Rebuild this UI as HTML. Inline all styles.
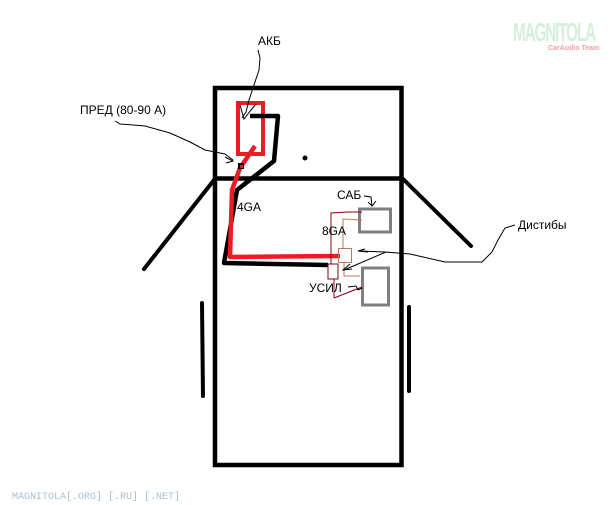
<!DOCTYPE html>
<html><head><meta charset="utf-8"><style>
html,body{margin:0;padding:0;background:#fff;width:612px;height:505px;overflow:hidden}
svg{display:block}
text{font-family:"Liberation Sans","DejaVu Sans",sans-serif;font-size:12px;fill:#000}
</style></head><body>
<svg width="612" height="505" viewBox="0 0 612 505" xmlns="http://www.w3.org/2000/svg">
<rect width="612" height="505" fill="#fff"/>
<!-- watermark -->
<text x="513" y="41" style="font-size:26px;font-weight:bold;fill:#d6eedd;letter-spacing:-2px" textLength="82" lengthAdjust="spacingAndGlyphs">MAGNITOLA</text>
<text x="548" y="50" style="font-size:7px;font-weight:bold;fill:#f2a0a0">CarAudio Team</text>
<text x="12" y="499" style="font-family:'Liberation Mono',monospace;font-size:10px;fill:#a9bfd0">MAGNITOLA[.ORG] [.RU] [.NET]</text>

<!-- body -->
<rect x="215" y="88" width="186.5" height="377" fill="none" stroke="#000" stroke-width="4.5"/>
<line x1="215" y1="178.5" x2="401.5" y2="178.5" stroke="#000" stroke-width="4.5"/>
<line x1="214" y1="180" x2="144" y2="269" stroke="#000" stroke-width="4" stroke-linecap="round"/>
<line x1="402" y1="178" x2="471" y2="246" stroke="#000" stroke-width="4" stroke-linecap="round"/>
<line x1="202" y1="303" x2="203" y2="396" stroke="#000" stroke-width="4" stroke-linecap="round"/>
<line x1="409" y1="307" x2="409" y2="391" stroke="#000" stroke-width="4" stroke-linecap="round"/>
<circle cx="305" cy="158" r="2.5" fill="#000"/>

<!-- battery -->
<rect x="238" y="103" width="25" height="51" fill="none" stroke="#ed1c24" stroke-width="4"/>
<!-- black wire -->
<polyline points="250,116 278,116 274,161 237,190 224,263 328,265" fill="none" stroke="#000" stroke-width="4.5" stroke-linejoin="round"/>
<!-- red wire -->
<polyline points="255,146 240,168 232,190 230,257 340,256" fill="none" stroke="#ed1c24" stroke-width="4.5" stroke-linejoin="round"/>
<rect x="238" y="163" width="6" height="6" fill="#000"/>
<rect x="240" y="165" width="3" height="3" fill="#ed1c24"/>

<!-- sub & amp -->
<rect x="359.5" y="209" width="31" height="23" fill="none" stroke="#7f7f7f" stroke-width="3"/>
<rect x="362.5" y="268" width="26" height="37" fill="none" stroke="#7f7f7f" stroke-width="3"/>
<rect x="328" y="264" width="10" height="15" fill="none" stroke="#880015" stroke-width="1"/>
<rect x="338.5" y="248.5" width="13" height="14" fill="none" stroke="#b97a57" stroke-width="1"/>
<polyline points="331,264 331,213 348,212 362,212" fill="none" stroke="#880015" stroke-width="1"/>
<polyline points="343,248 343,219 362,220" fill="none" stroke="#b97a57" stroke-width="1"/>
<polyline points="344,263 344,276 360,276" fill="none" stroke="#b97a57" stroke-width="1"/>
<polyline points="334,298 362,287" fill="none" stroke="#880015" stroke-width="1"/>
<line x1="334" y1="279" x2="334" y2="298" stroke="#880015" stroke-width="1"/>

<!-- leaders -->
<polyline points="258,50 260,58 259,70 254,85 249,100 246,112 242,118" fill="none" stroke="#000" stroke-width="1"/>
<polyline points="240,105 244,119 251,110 256,104" fill="none" stroke="#000" stroke-width="1"/>
<polyline points="115,121 120,124 145,126 170,133 190,142 205,150 225,154 233,160" fill="none" stroke="#000" stroke-width="1"/>
<polyline points="225,157 233,161 226,163" fill="none" stroke="#000" stroke-width="1"/>
<polyline points="515,225 505,228 498,240 492,252 482,262 445,262 410,254 385,252 360,251" fill="none" stroke="#000" stroke-width="1"/>
<polyline points="365,249 358,251 368,252" fill="none" stroke="#000" stroke-width="1"/>
<polyline points="386,252 344,270" fill="none" stroke="#000" stroke-width="1"/>
<polyline points="350,264 343,270 352,269" fill="none" stroke="#000" stroke-width="1"/>
<polyline points="364,196 371,197 372,206" fill="none" stroke="#000" stroke-width="1"/>
<polyline points="368,202 372,206 376,201" fill="none" stroke="#000" stroke-width="1"/>
<polyline points="348,287 356,286 358,290 362,288" fill="none" stroke="#000" stroke-width="1"/>

<!-- labels -->
<text x="258" y="45">АКБ</text>
<text x="80" y="114">ПРЕД (80-90 А)</text>
<text x="337" y="199">САБ</text>
<text x="322" y="235">8GA</text>
<text x="237" y="211">4GA</text>
<text x="518" y="229">Дистибы</text>
<text x="309" y="292">УСИЛ</text>
</svg>
</body></html>
